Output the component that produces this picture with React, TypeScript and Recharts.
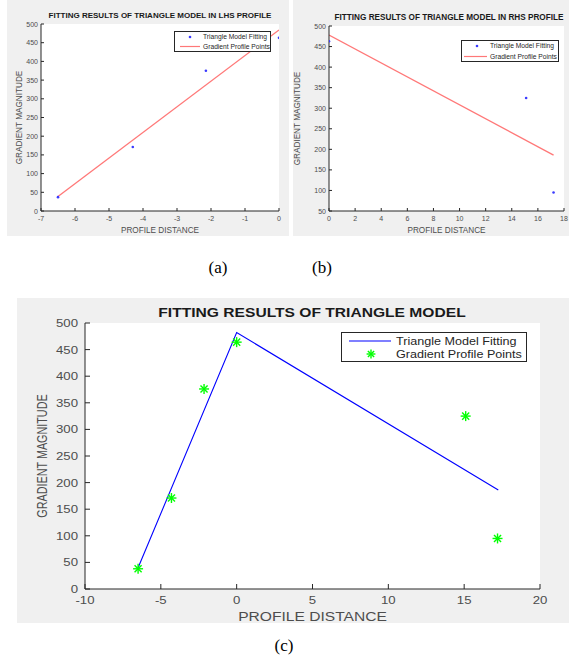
import React from "react";
import { ComposedChart, Line, Scatter, XAxis, YAxis, Legend, Label } from "recharts";

// profile points
const lhsDistance = [-6.5, -4.3, -2.15, 0];
const lhsMagnitude = [37, 171, 375, 463];
const rhsDistance = [0, 15.1, 17.2];
const rhsMagnitude = [463, 325, 95];
const allDistance = [-6.5, -4.3, -2.15, 0, 15.1, 17.2];
const allMagnitude = [38, 171, 376, 464, 325, 95];

// fitted lines
const lhsFitDistance = [-6.5, 0];
const lhsFitMagnitude = [39, 484];
const rhsFitDistance = [0, 17.2];
const rhsFitMagnitude = [478, 186];
const triFitDistance = [-6.5, 0, 17.25];
const triFitMagnitude = [40, 482, 186];

// axis ticks
const ticksAX = [-7, -6, -5, -4, -3, -2, -1, 0];
const ticksAY = [0, 50, 100, 150, 200, 250, 300, 350, 400, 450, 500];
const ticksBX = [0, 2, 4, 6, 8, 10, 12, 14, 16, 18];
const ticksBY = [50, 100, 150, 200, 250, 300, 350, 400, 450, 500];
const ticksCX = [-10, -5, 0, 5, 10, 15, 20];
const ticksCY = [0, 50, 100, 150, 200, 250, 300, 350, 400, 450, 500];

const LEGEND_FIT = "Triangle Model Fitting";
const LEGEND_PTS = "Gradient Profile Points";

const FONT = '"Liberation Sans", Arial, sans-serif';
const SERIF = '"Liberation Serif", "Times New Roman", serif';
const C = {
  bg: "#f0f0f0",
  axis: "#262626",
  tick: "#4d4d4d",
  blue: "#0000ff",
  dot: "#3a3aff",
  red: "#ff7878",
  green: "#00ff00",
};

const zip = (xs: number[], ys: number[]) => xs.map((x, i) => ({ x, y: ys[i] }));

// text that can be stretched, the (c) figure is scaled wider than tall
function SText({ x, y, sx = 1, sy = 1, angle = 0, anchor = "middle", dy = "0.355em", size, weight = 400, fill = C.tick, children }: any) {
  return (
    <g transform={`translate(${x},${y}) rotate(${angle}) scale(${sx},${sy})`}>
      <text textAnchor={anchor} dy={dy} fontSize={size} fontWeight={weight} fill={fill} fontFamily={FONT}>
        {children}
      </text>
    </g>
  );
}

function Asterisk({ cx, cy, r = 5, color = C.green }: any) {
  const d = r * 0.707;
  return (
    <g stroke={color} strokeWidth={1.4}>
      <line x1={cx - r} y1={cy} x2={cx + r} y2={cy} />
      <line x1={cx} y1={cy - r} x2={cx} y2={cy + r} />
      <line x1={cx - d} y1={cy - d} x2={cx + d} y2={cy + d} />
      <line x1={cx - d} y1={cy + d} x2={cx + d} y2={cy - d} />
    </g>
  );
}

function BlueDot({ cx, cy }: any) {
  return <circle cx={cx} cy={cy} r={1.3} fill={C.dot} />;
}

interface Cfg {
  left: number; top: number; w: number; h: number;
  mTop: number; mRight: number; yW: number; xH: number;
  xDomain: number[]; xTicks: number[]; yDomain: number[]; yTicks: number[];
  tl: number; fs: number; sx: number; xGap: number; yGap: number;
  title: string; titleFs: number; titleX: number; titleY: number;
  labFs: number; labSx: number; yLabFs: number; yLabSy: number; xLabOff: number; yLabX: number;
  lg: { left: number; top: number; w: number; h: number; rows: number[]; l1: number; l2: number; mk: number; tx: number; fs: number; sx: number };
}

function Panel({ cfg, fit, pts, variant }: { cfg: Cfg; fit: { x: number; y: number }[]; pts: { x: number; y: number }[]; variant: "c" | "ab" }) {
  const { w, h, tl, fs, sx, lg } = cfg;
  const ln = { stroke: C.axis, strokeWidth: 1 };

  // labels outside, matlab style tick marks pointing into the box
  const tickX = (p: any) => {
    const base = p.y - cfg.xGap;
    return (
      <g>
        <line x1={p.x} x2={p.x} y1={base} y2={base - tl} {...ln} />
        <SText x={p.x} y={p.y} sx={sx} size={fs} dy="0.71em">{p.payload.value}</SText>
      </g>
    );
  };
  const tickY = (p: any) => {
    const base = p.x + cfg.yGap;
    return (
      <g>
        <line x1={base} x2={base + tl} y1={p.y} y2={p.y} {...ln} />
        <SText x={p.x} y={p.y} sx={sx} size={fs} anchor="end">{p.payload.value}</SText>
      </g>
    );
  };
  const tickTop = (p: any) => <line x1={p.x} x2={p.x} y1={p.y} y2={p.y + tl} {...ln} />;
  const tickRight = (p: any) => <line x1={p.x} x2={p.x - tl} y1={p.y} y2={p.y} {...ln} />;

  const legendContent = (props: any) => {
    // fitting entry first, as in the figure
    const items = [...(props.payload || [])].sort((a: any, b: any) =>
      a.value === LEGEND_FIT ? -1 : b.value === LEGEND_FIT ? 1 : 0
    );
    return (
      <svg width={lg.w} height={lg.h} style={{ display: "block" }}>
        <rect x={0.5} y={0.5} width={lg.w - 1} height={lg.h - 1} fill="#fff" stroke={C.axis} strokeWidth={1} />
        {items.map((it: any, i: number) => {
          const y = lg.rows[i];
          return (
            <g key={i}>
              {it.type === "line" && <line x1={lg.l1} x2={lg.l2} y1={y} y2={y} stroke={it.color} strokeWidth={1.2} />}
              {it.type === "star" && <Asterisk cx={lg.mk} cy={y} r={lg.fs * 0.42} />}
              {it.type === "circle" && <BlueDot cx={lg.mk} cy={y} />}
              <SText x={lg.tx} y={y} sx={lg.sx} size={lg.fs} anchor="start" fill="#262626">{it.value}</SText>
            </g>
          );
        })}
      </svg>
    );
  };

  const fitLine = (
    <Line
      key="fit"
      xAxisId="b"
      yAxisId="l"
      data={fit}
      dataKey="y"
      name={variant === "c" ? LEGEND_FIT : LEGEND_PTS}
      type="linear"
      stroke={variant === "c" ? C.blue : C.red}
      strokeWidth={variant === "c" ? 1.1 : 1.3}
      dot={false}
      legendType="line"
      isAnimationActive={false}
    />
  );
  const points = (
    <Scatter
      key="pts"
      xAxisId="b"
      yAxisId="l"
      data={pts}
      dataKey="y"
      name={variant === "c" ? LEGEND_PTS : LEGEND_FIT}
      fill={variant === "c" ? C.green : C.dot}
      legendType={variant === "c" ? "star" : "circle"}
      shape={variant === "c" ? (p: any) => <Asterisk cx={p.cx} cy={p.cy} /> : (p: any) => <BlueDot cx={p.cx} cy={p.cy} />}
      isAnimationActive={false}
    />
  );

  return (
    <div style={{ position: "absolute", left: cfg.left, top: cfg.top, width: w, height: h, background: C.bg }}>
      {/* white plot area behind the svg */}
      <div
        style={{
          position: "absolute",
          left: cfg.yW,
          top: cfg.mTop,
          width: w - cfg.mRight - cfg.yW,
          height: h - cfg.xH - cfg.mTop,
          background: "#fff",
        }}
      />
      <ComposedChart width={w} height={h} margin={{ top: cfg.mTop, right: cfg.mRight, bottom: 0, left: 0 }}>
        <XAxis
          xAxisId="b"
          type="number"
          dataKey="x"
          domain={cfg.xDomain}
          ticks={cfg.xTicks}
          interval={0}
          allowDataOverflow
          height={cfg.xH}
          stroke={C.axis}
          tickLine={false}
          tickSize={0}
          tickMargin={cfg.xGap}
          tick={tickX}
        >
          <Label
            content={(p: any) => {
              const vb = p.viewBox;
              return (
                <SText x={vb.x + vb.width / 2} y={vb.y + cfg.xLabOff} sx={cfg.labSx} size={cfg.labFs}>
                  PROFILE DISTANCE
                </SText>
              );
            }}
          />
        </XAxis>
        <XAxis
          xAxisId="t"
          orientation="top"
          type="number"
          domain={cfg.xDomain}
          ticks={cfg.xTicks}
          interval={0}
          allowDataOverflow
          height={0}
          stroke={C.axis}
          tickLine={false}
          tickSize={0}
          tickMargin={0}
          tick={tickTop}
        />
        <YAxis
          yAxisId="l"
          type="number"
          domain={cfg.yDomain}
          ticks={cfg.yTicks}
          interval={0}
          allowDataOverflow
          width={cfg.yW}
          stroke={C.axis}
          tickLine={false}
          tickSize={0}
          tickMargin={cfg.yGap}
          tick={tickY}
        >
          <Label
            content={(p: any) => {
              const vb = p.viewBox;
              return (
                <SText x={vb.x + cfg.yLabX} y={vb.y + vb.height / 2} angle={-90} sy={cfg.yLabSy} size={cfg.yLabFs}>
                  GRADIENT MAGNITUDE
                </SText>
              );
            }}
          />
        </YAxis>
        <YAxis
          yAxisId="r"
          orientation="right"
          type="number"
          domain={cfg.yDomain}
          ticks={cfg.yTicks}
          interval={0}
          allowDataOverflow
          width={0}
          stroke={C.axis}
          tickLine={false}
          tickSize={0}
          tickMargin={0}
          tick={tickRight}
        />
        <Legend
          layout="horizontal"
          verticalAlign="middle"
          align="center"
          wrapperStyle={{ left: lg.left, top: lg.top, width: lg.w, height: lg.h }}
          content={legendContent}
        />
        {variant === "c" ? [fitLine, points] : [points, fitLine]}
      </ComposedChart>
      <div
        style={{
          position: "absolute",
          left: cfg.titleX,
          top: cfg.titleY,
          transform: `translate(-50%, -50%) scaleX(${cfg.labSx})`,
          whiteSpace: "nowrap",
          fontFamily: FONT,
          fontWeight: 700,
          fontSize: cfg.titleFs,
          color: "#1a1a1a",
          lineHeight: 1,
        }}
      >
        {cfg.title}
      </div>
    </div>
  );
}

const cfgA: Cfg = {
  left: 7, top: 0, w: 282, h: 236,
  mTop: 24, mRight: 10, yW: 34, xH: 25,
  xDomain: [-7, 0], xTicks: ticksAX, yDomain: [0, 500], yTicks: ticksAY,
  tl: 3, fs: 7, sx: 1, xGap: 5, yGap: 3,
  title: "FITTING RESULTS OF TRIANGLE MODEL IN LHS PROFILE", titleFs: 8, titleX: 153, titleY: 16,
  labFs: 8.2, labSx: 1, yLabFs: 8.2, yLabSy: 1, xLabOff: 19, yLabX: 12,
  lg: { left: 167, top: 31, w: 97, h: 21, rows: [6, 15.5], l1: 6, l2: 26, mk: 16, tx: 29, fs: 6.7, sx: 1 },
};

const cfgB: Cfg = {
  left: 293, top: 0, w: 276, h: 236,
  mTop: 26, mRight: 5, yW: 36, xH: 25,
  xDomain: [0, 18], xTicks: ticksBX, yDomain: [50, 500], yTicks: ticksBY,
  tl: 3, fs: 7, sx: 1, xGap: 5, yGap: 3,
  title: "FITTING RESULTS OF TRIANGLE MODEL IN RHS PROFILE", titleFs: 8.2, titleX: 156, titleY: 18,
  labFs: 8.2, labSx: 1, yLabFs: 8.2, yLabSy: 1, xLabOff: 19, yLabX: 4,
  lg: { left: 168, top: 40, w: 98, h: 22, rows: [6, 16.5], l1: 3, l2: 26, mk: 16, tx: 29, fs: 6.7, sx: 1 },
};

const cfgC: Cfg = {
  left: 17, top: 298, w: 552, h: 325,
  mTop: 25, mRight: 29, yW: 68, xH: 34,
  xDomain: [-10, 20], xTicks: ticksCX, yDomain: [0, 500], yTicks: ticksCY,
  tl: 5, fs: 11, sx: 1.2, xGap: 7, yGap: 7,
  title: "FITTING RESULTS OF TRIANGLE MODEL", titleFs: 13, titleX: 295, titleY: 14,
  labFs: 13, labSx: 1.2, yLabFs: 10.8, yLabSy: 1.4, xLabOff: 27, yLabX: 25,
  lg: { left: 324, top: 34, w: 186, h: 30, rows: [9, 22], l1: 8, l2: 50, mk: 30, tx: 55, fs: 10.5, sx: 1.2 },
};

const caption = (text: string, x: number, y: number) => (
  <div
    style={{
      position: "absolute",
      left: x,
      top: y,
      transform: "translate(-50%, -50%)",
      fontFamily: SERIF,
      fontSize: 17,
      color: "#000",
      lineHeight: 1,
    }}
  >
    {text}
  </div>
);

export default function App() {
  return (
    <div style={{ position: "absolute", left: 0, top: 0, width: 569, height: 668, background: "#fff", overflow: "hidden" }}>
      <Panel cfg={cfgA} variant="ab" fit={zip(lhsFitDistance, lhsFitMagnitude)} pts={zip(lhsDistance, lhsMagnitude)} />
      <Panel cfg={cfgB} variant="ab" fit={zip(rhsFitDistance, rhsFitMagnitude)} pts={zip(rhsDistance, rhsMagnitude)} />
      {caption("(a)", 218, 267)}
      {caption("(b)", 322, 267)}
      <Panel cfg={cfgC} variant="c" fit={zip(triFitDistance, triFitMagnitude)} pts={zip(allDistance, allMagnitude)} />
      {caption("(c)", 284, 645)}
    </div>
  );
}
